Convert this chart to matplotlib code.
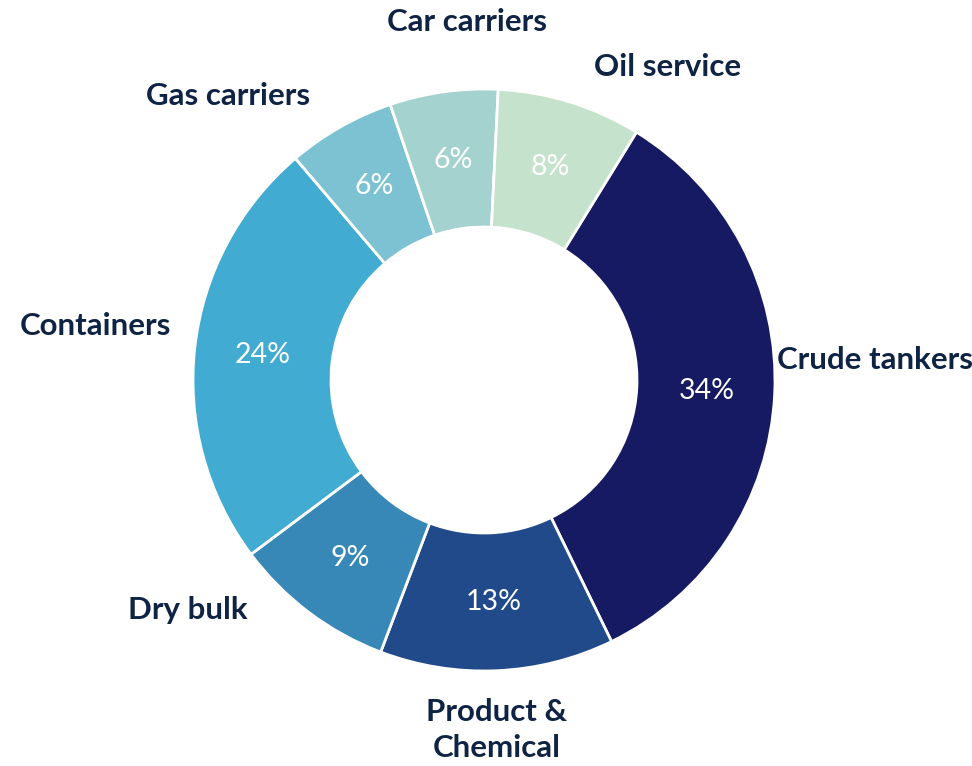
import matplotlib
matplotlib.use("Agg")
import matplotlib.pyplot as plt

# fleet exposure by segment (%), clockwise from top-right
segments = ['Crude tankers', 'Product &\nChemical', 'Dry bulk', 'Containers',
            'Gas carriers', 'Car carriers', 'Oil service']
shares = [34, 13, 9, 24, 6, 6, 8]
colors = ['#151A63', '#214A8A', '#3788B6', '#42ABD1', '#7CC2D2', '#A4D3CF', '#C5E3CC']

LABEL_COLOR = '#0F2444'
W, H = 972, 766
CENTER = (484, 386)
RADIUS = 291
RING = 138

# label anchors in pixel space (x, y from top), plus alignment
label_pos = [(777, 360, 'left'), (497, 730, 'center'), (188, 610, 'center'),
             (95, 326, 'center'), (228, 96, 'center'), (467, 22, 'center'),
             (668, 67, 'center')]

plt.rcParams['font.family'] = ['Lato', 'DejaVu Sans']

fig = plt.figure(figsize=(W / 100, H / 100), dpi=100)
ax = fig.add_axes([0, 0, 1, 1])

wedges, texts, autotexts = ax.pie(
    shares, labels=segments, colors=colors, startangle=58.4, counterclock=False,
    center=CENTER, radius=RADIUS, autopct='%d%%', pctdistance=0.765,
    wedgeprops=dict(width=RING, edgecolor='white', linewidth=2),
    textprops=dict(fontsize=22.5), frame=True)
ax.set_xlim(0, W)
ax.set_ylim(0, H)
ax.set_aspect('equal')
ax.axis('off')

for t, (x, y, ha) in zip(texts, label_pos):
    t.set_position((x, H - y))
    t.set_ha(ha)
    t.set_va('center')
    t.set_color(LABEL_COLOR)
    t.set_fontweight('bold')
    t.set_linespacing(1.35)

for t in autotexts:
    t.set_color('white')
    t.set_fontsize(20.5)

fig.savefig('out.png', dpi=100)
